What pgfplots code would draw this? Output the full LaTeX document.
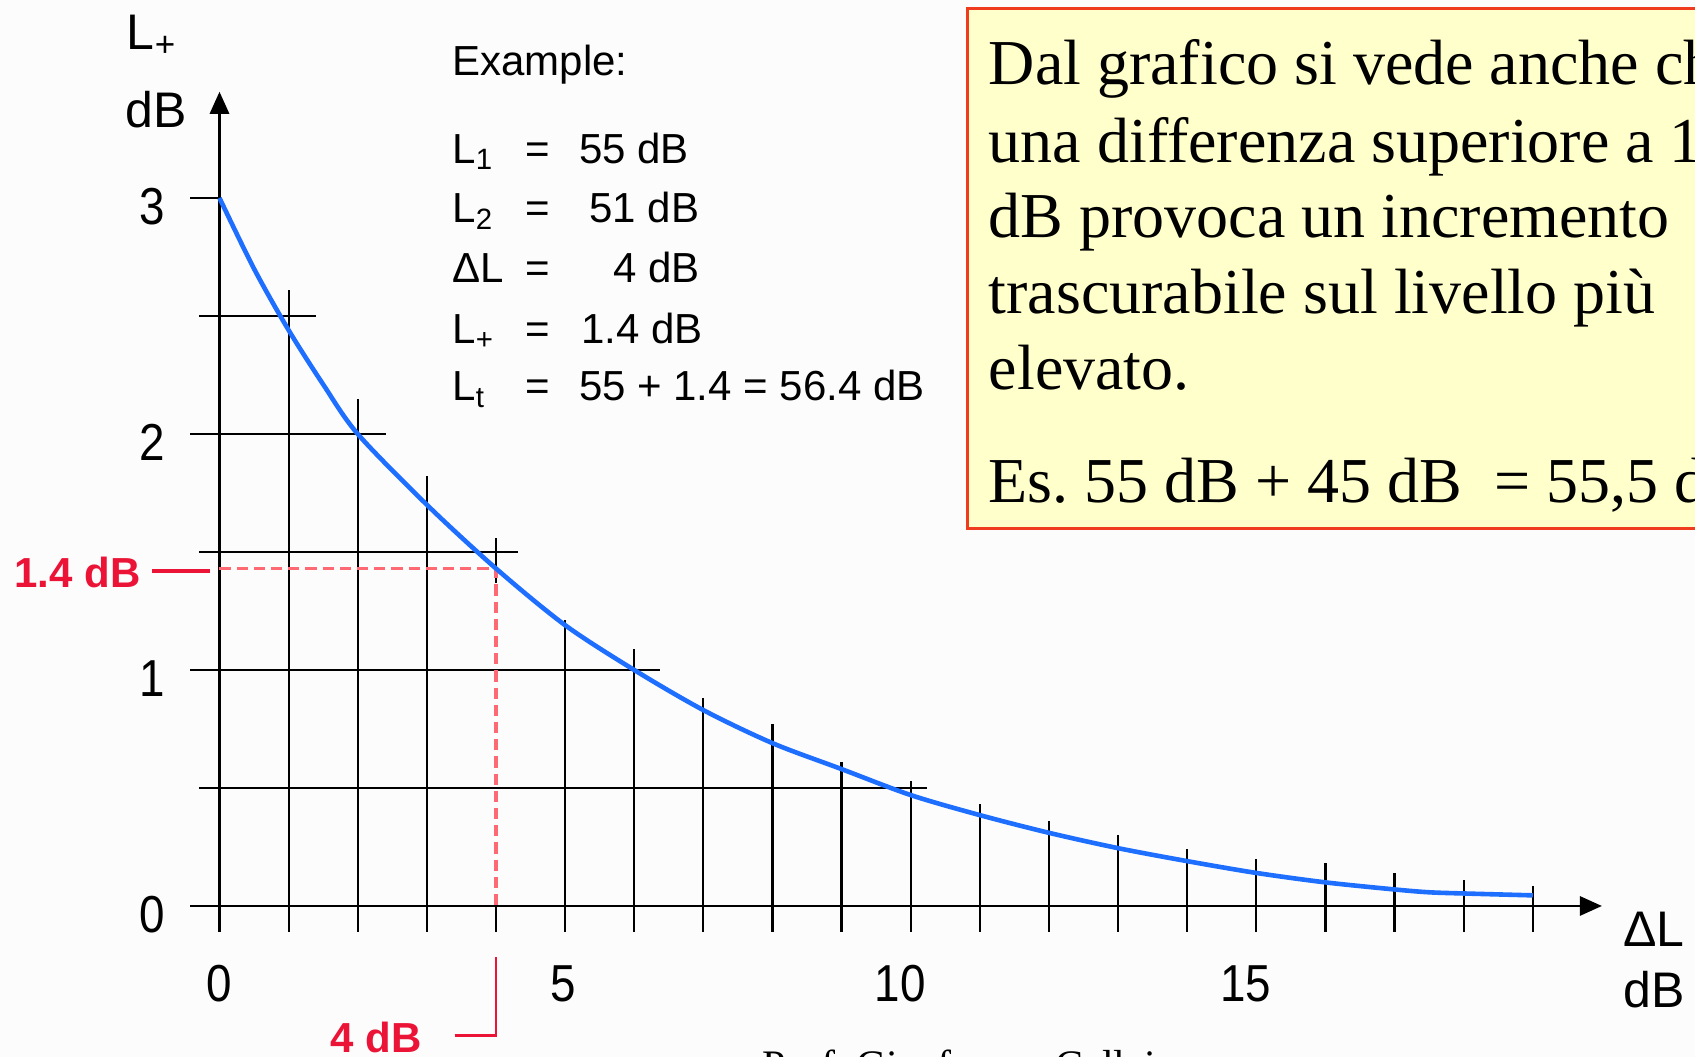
\documentclass[border=0pt]{standalone}
\usepackage{pgfplots}
\pgfplotsset{compat=1.18}
\usetikzlibrary{arrows.meta}
\usepackage{fontspec}
\setmainfont{Liberation Sans}
\newfontfamily\tickfont[FakeStretch=0.88]{Liberation Sans}
\newfontfamily\boxfont{Liberation Serif}
\frenchspacing

\definecolor{curveblue}{RGB}{30,110,255}
\definecolor{annred}{RGB}{235,20,55}
\definecolor{dashred}{RGB}{255,105,115}
\definecolor{boxfill}{RGB}{255,255,204}
\definecolor{boxline}{RGB}{240,60,30}
\definecolor{bg}{RGB}{252,252,252}

\begin{document}
\begin{tikzpicture}
% page = 1695 x 1057 px at 0.25pt per px
\useasboundingbox (0,0) rectangle (423.75pt,264.25pt);
\clip (0,0) rectangle (423.75pt,264.25pt);
\fill[bg] (0,0) rectangle (423.75pt,264.25pt);

\begin{axis}[
    x=17.28pt, y=59pt,
    xmin=-0.5, xmax=20.3,
    ymin=-0.15, ymax=3.5,
    axis lines=none,
    xtick=\empty, ytick=\empty,
    clip=false,
    at={(54.875pt,37.75pt)}, anchor=origin,
]

% horizontal grid lines (partial, as in the original)
\draw[black, line width=0.55pt] (axis cs:-0.42,3) -- (axis cs:0,3);
\draw[black, line width=0.55pt] (axis cs:-0.30,2.5) -- (axis cs:1.39,2.5);
\draw[black, line width=0.55pt] (axis cs:-0.42,2) -- (axis cs:2.41,2);
\draw[black, line width=0.55pt] (axis cs:-0.29,1.5) -- (axis cs:4.32,1.5);
\draw[black, line width=0.55pt] (axis cs:-0.42,1) -- (axis cs:6.37,1);
\draw[black, line width=0.55pt] (axis cs:-0.30,0.5) -- (axis cs:10.24,0.5);

% vertical grid lines up to the curve
\foreach \xx/\yy in {1/2.61,2/2.15,3/1.82,5/1.21,6/1.09,7/0.88,8/0.77,9/0.61,10/0.53,
                     11/0.43,12/0.36,13/0.30,14/0.24,15/0.20,16/0.18,17/0.14,18/0.11,19/0.085}{
    \edef\tmp{\noexpand\draw[black, line width=0.55pt] (axis cs:\xx,-0.11) -- (axis cs:\xx,\yy);}
    \tmp
}
% at 4 dB the grid line gives way to the red dashed line
\draw[black, line width=0.55pt] (axis cs:4,-0.11) -- (axis cs:4,0);
\draw[black, line width=0.55pt] (axis cs:4,1.37) -- (axis cs:4,1.56);

% axes with arrows
\draw[black, line width=0.6pt, -{Triangle[length=5.5pt,width=4.8pt]}] (axis cs:0,-0.11) -- (axis cs:0,3.45);
\draw[black, line width=0.6pt, -{Triangle[length=5.5pt,width=4.8pt]}] (axis cs:-0.42,0) -- (axis cs:20.0,0);

% red dashed reading lines
\draw[dashred, line width=0.9pt, dash pattern=on 2.8pt off 1.5pt] (axis cs:0,1.43) -- (axis cs:4,1.43) -- (axis cs:4,0);

% curve L+ vs Delta L
\addplot[curveblue, line width=1.15pt, smooth] coordinates {
    (0,3.00) (0.5,2.70) (1,2.44) (1.5,2.21) (2,2.00) (3,1.70) (4,1.43) (5,1.19)
    (6,1.00) (7,0.83) (8,0.69) (9,0.58) (10,0.47) (11,0.385) (12,0.31) (13,0.245)
    (14,0.19) (15,0.14) (16,0.10) (17,0.07) (17.5,0.058) (18,0.053) (19,0.045)
};

% red annotations
\draw[annred, line width=0.9pt] (axis cs:-0.98,1.42) -- (axis cs:-0.14,1.42);
\node[annred, anchor=base east, inner sep=0, font=\fontsize{10.5}{12}\selectfont\bfseries] at (axis cs:-1.13,1.35) {1.4 dB};
\draw[annred, line width=0.7pt] (axis cs:3.40,-0.55) -- (axis cs:4,-0.55) -- (axis cs:4,-0.216);
\node[annred, anchor=base west, inner sep=0, font=\fontsize{10.5}{12}\selectfont\bfseries] at (axis cs:1.6,-0.62) {4 dB};

% tick labels
\foreach \yy in {0,1,2,3}{
    \edef\tmp{\noexpand\node[inner sep=0, font=\noexpand\tickfont\noexpand\fontsize{13}{15}\noexpand\selectfont] at (axis cs:-0.98,\yy-0.035) {\yy};}
    \tmp
}
\node[inner sep=0, font=\tickfont\fontsize{13}{15}\selectfont] at (axis cs:0,-0.33) {0};
\node[inner sep=0, font=\tickfont\fontsize{13}{15}\selectfont] at (axis cs:4.97,-0.33) {5};
\node[inner sep=0, font=\tickfont\fontsize{13}{15}\selectfont] at (axis cs:9.85,-0.33) {10};
\node[inner sep=0, font=\tickfont\fontsize{13}{15}\selectfont] at (axis cs:14.85,-0.33) {15};

% axis labels
\node[anchor=base west, inner sep=0, font=\fontsize{12.5}{14}\selectfont] at (axis cs:-1.35,3.63) {L\textsubscript{+}};
\node[anchor=base west, inner sep=0, font=\fontsize{12.5}{14}\selectfont] at (axis cs:-1.37,3.30) {dB};
\node[anchor=base west, inner sep=0, font=\fontsize{12.5}{14}\selectfont] at (axis cs:20.30,-0.17) {ΔL};
\node[anchor=base west, inner sep=0, font=\fontsize{12.5}{14}\selectfont] at (axis cs:20.30,-0.43) {dB};

% example block
\begin{scope}[every node/.style={anchor=base west, inner sep=0, font=\fontsize{10.5}{12}\selectfont}]
\node at (axis cs:3.36,3.52) {Example:};
\node at (axis cs:3.36,3.148) {L\textsubscript{1}};
\node at (axis cs:4.41,3.148) {=};
\node at (axis cs:5.19,3.148) {55 dB};
\node at (axis cs:3.36,2.895) {L\textsubscript{2}};
\node at (axis cs:4.41,2.895) {=};
\node at (axis cs:5.34,2.895) {51 dB};
\node at (axis cs:3.36,2.64) {ΔL};
\node at (axis cs:4.41,2.64) {=};
\node at (axis cs:5.69,2.64) {4 dB};
\node at (axis cs:3.36,2.385) {L\textsubscript{+}};
\node at (axis cs:4.41,2.385) {=};
\node at (axis cs:5.22,2.385) {1.4 dB};
\node at (axis cs:3.36,2.14) {L\textsubscript{t}};
\node at (axis cs:4.41,2.14) {=};
\node at (axis cs:5.19,2.14) {55 + 1.4 = 56.4 dB};
\end{scope}
\end{axis}

% yellow note box (cut by the right edge, as in the original)
\draw[boxline, fill=boxfill, line width=0.6pt] (241.9pt,132.1pt) rectangle (445pt,262.1pt);
\begin{scope}[every node/.style={anchor=base west, inner sep=0, font=\boxfont\fontsize{16}{18}\selectfont}]
\node at (247pt,243.2pt) {Dal grafico si vede anche che};
\node at (247pt,223.7pt) {una differenza superiore a 10};
\node at (247pt,204.8pt) {dB provoca un incremento};
\node at (247pt,185.9pt) {trascurabile sul livello più};
\node at (247pt,166.95pt) {elevato.};
\node at (247pt,138.6pt) {Es. 55 dB + 45 dB\ \ = 55,5 dB};
\end{scope}

% footer, cut by the bottom edge
\node[anchor=base west, inner sep=0, font=\boxfont\fontsize{10.5}{12}\selectfont] at (190.5pt,-5.6pt) {Prof. Gianfranco Cellai};
\end{tikzpicture}
\end{document}
